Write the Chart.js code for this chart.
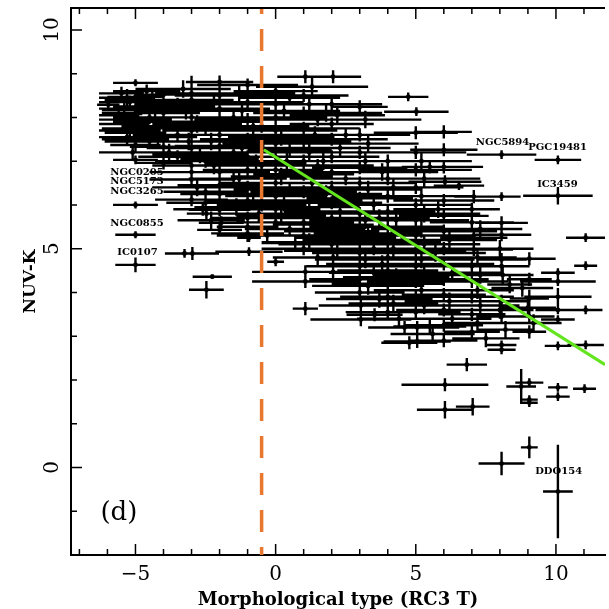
<!DOCTYPE html>
<html>
<head>
<meta charset="utf-8">
<script src="https://cdn.jsdelivr.net/npm/chart.js@4.4.1/dist/chart.umd.min.js"></script>
<style>
  html, body { margin: 0; padding: 0; background: #fff; overflow: hidden; }
</style>
</head>
<body>
<canvas id="chart" width="609" height="609"></canvas>
<script>
// RC3 morphological type T and its error (one line per T group)
const tType = [
  -5, -5, -5, -5, -5, -5, -5, -5, -5, -5, -5.97, -5.5, -5.6, -5.4, -5.3, -5.2, -4.8, -4.7, -4.6, -4.5, -4.5, -5.1,
  -4, -4, -4, -4, -4, -3.5, -3.5, -3.5, -3, -3, -3, -3, -3, -3, -3, -3, -3.25, -2.97, -2.26, -2.47, -2.6,
  -2, -2, -2, -2, -2, -2, -2, -2, -2, -2, -2, -2, -1.94, -2.47, -2.5, -2.5, -2.5, -1.5, -1.5, -1.5, -1, -1, -1, -1, -1, -1, -1, -1, -1, -1, -0.95, -0.95,
  0, 0, 0, 0, 0, 0, 0, 0, 0, 0, 0, 0, -0.5, -0.5, -0.5, 0.5, 0.5, 0.5, 0.7, 0.5,
  1.06, 1, 1, 1, 1, 1, 1, 1, 1, 1, 1, 1, 1.06, 1.06, 1.06, 1.5, 1.5, 1.5,
  2.05, 2, 2, 2, 2, 2, 2, 2, 2, 2, 2, 2.05, 2.05, 2.5, 2.5, 2.5,
  3, 3, 3, 3, 3, 3, 3, 3, 3, 3, 3, 3, 3, 3.04, 3.04, 3.53, 3.5, 3.5, 3.5,
  4, 4, 4, 4, 4, 4, 4, 4, 4, 4, 4, 4.5, 4.6, 4.77, 4.73,
  5.02, 5, 5, 5, 5, 5, 5, 5, 5, 5, 5, 5, 5, 5.05, 5.05, 5.5, 5.5,
  6, 6, 6, 6.04, 6, 6, 6, 6, 6, 6, 6, 6, 6, 6, 6.54, 6.04, 6.04,
  7.07, 7, 7, 7.07, 7.07, 7, 7, 7, 7, 7, 6.82, 7.03,
  8.06, 8.06, 8.06, 8.06, 8.06, 8.06, 8.35, 8.06, 8.06, 8.06, 8.06, 8.06,
  9.05, 9.05, 9.05, 9.05, 9.05, 8.76, 9.05, 9.05, 9.05, 9.05,
  10.07, 10.07, 10.07, 10.07, 10.07, 10.07, 10.07, 10.07, 10.07, 10.07, 10.07,
  11.06, 11.06, 11.06, 11.06, 11.02,
  -5.3, -4.9, -5.2, -4.3, -4.4, -5.0, -4.2, -5.4, -4.0, -3.8,
  -3.3, -3.2, -2.8, -3.1, -2.7, -3.0, -2.8, -2.5, -2.2, -2.3, -2.2, -2.0, -2.3,
  -1.3, -1.2, -0.8, -1.2, -0.7, -1.3, -0.8, -1.4, -0.6, -1.0, 0.3, 0.2, 0.4, 0.2, 0.3, 0.2, -0.3,
  1.3, 1.2, 1.4, 1.2, 1.3, 1.2, 1.4, 1.2, 1.5, 1.8, 1.7, 1.8, 1.7, 2.2, 2.3, 2.3, 2.2,
  3.2, 3.3, 3.2, 3.3, 3.2, 3.3, 3.2, 3.3, 3.7, 3.8, 3.7, 3.8, 4.2, 4.3, 4.2, 4.3, 4.2, 4.4,
  5.2, 5.3, 5.2, 5.3, 5.2, 5.3, 5.2, 5.3, 5.2, 5.3, 5.6, 5.7, 5.8, 6.2, 6.3, 6.2, 6.3,
  7.3, 7.2, 7.3, 7.2, 7.3, 7.2, 7.5, 8.0, 8.1, 8.0, 8.2, 8.8, 9.0, 9.2
];
const tErr = [
  0.8, 1.0, 1.2, 1.3, 1.1, 0.9, 0.8, 0.8, 0.72, 0.72, 0.4, 0.8, 0.7, 0.9, 1.0, 1.1, 1.4, 1.5, 1.2, 1.6, 1.3, 1.2,
  1.0, 1.3, 1.2, 1.0, 1.5, 1.5, 1.6, 1.4, 1.0, 1.3, 1.5, 1.8, 1.6, 1.4, 1.5, 1.3, 0.7, 0.95, 0.7, 0.62, 1.05,
  1.2, 1.6, 1.8, 1.5, 1.7, 1.6, 1.4, 1.8, 1.5, 1.0, 1.1, 0.8, 0.8, 0.7, 1.5, 1.8, 2.0, 1.8, 2.0, 1.6, 1.8, 2.0, 1.9, 1.7, 2.0, 1.6, 1.9, 1.5, 1.3, 1.1, 0.42, 1.2,
  1.5, 2.0, 1.8, 2.2, 1.9, 2.0, 1.7, 2.0, 1.8, 1.6, 1.4, 0.3, 1.5, 1.8, 1.6, 1.8, 1.5, 2.0, 1.2, 1.6,
  1.0, 1.6, 1.8, 2.0, 1.7, 2.0, 1.8, 1.9, 2.0, 1.8, 1.7, 1.5, 1.9, 1.9, 0.45, 1.8, 2.0, 1.6,
  1.0, 1.8, 1.5, 2.0, 1.7, 1.9, 2.0, 1.8, 2.0, 1.7, 1.9, 1.5, 1.0, 2.0, 1.8, 1.6,
  1.0, 1.8, 2.0, 1.7, 2.0, 1.9, 2.0, 1.8, 2.0, 1.7, 1.9, 1.8, 1.6, 1.5, 1.8, 1.0, 2.0, 1.8, 1.6,
  1.6, 1.8, 2.0, 1.7, 2.0, 1.9, 2.0, 1.8, 2.0, 1.7, 1.5, 1.8, 1.3, 1.0, 0.72,
  1.15, 1.5, 1.8, 2.0, 1.7, 2.0, 1.9, 2.0, 1.8, 2.0, 1.7, 1.9, 1.6, 1.5, 1.2, 1.3, 1.0,
  1.0, 1.2, 1.4, 1.3, 1.8, 1.6, 1.9, 1.7, 1.8, 1.6, 1.5, 1.7, 1.4, 1.2, 0.9, 1.55, 1.0,
  0.7, 1.0, 1.5, 1.2, 1.4, 1.6, 1.3, 1.5, 1.2, 1.0, 0.72, 0.6,
  1.24, 0.68, 0.94, 1.06, 0.9, 1.0, 0.8, 1.0, 0.9, 0.53, 0.5, 0.82,
  0.94, 0.8, 0.7, 0.9, 0.6, 0.53, 0.5, 0.3, 0.3, 0.3,
  0.83, 1.24, 0.6, 1.35, 1.2, 0.8, 0.6, 0.47, 0.35, 0.42, 0.53,
  0.7, 0.41, 0.6, 0.65, 0.41,
  1.0, 1.3, 1.1, 1.5, 1.7, 1.2, 1.4, 0.9, 1.8, 1.6,
  1.7, 1.8, 1.6, 1.9, 1.7, 1.5, 1.6, 1.4, 1.9, 1.8, 1.7, 1.4, 1.2,
  2.0, 1.8, 2.0, 1.9, 1.8, 1.7, 1.9, 1.5, 1.6, 1.3, 2.0, 1.9, 2.0, 1.8, 1.9, 1.6, 1.8,
  2.0, 1.9, 2.0, 1.8, 2.0, 1.9, 1.8, 1.7, 1.6, 2.0, 1.9, 2.0, 1.8, 1.9, 2.0, 1.8, 1.7,
  2.0, 1.8, 2.0, 1.9, 2.0, 1.9, 1.8, 2.0, 1.9, 2.0, 1.8, 2.0, 1.9, 2.0, 1.8, 1.9, 1.6, 1.5,
  1.8, 2.0, 1.9, 2.0, 1.8, 2.0, 1.9, 1.8, 1.7, 1.9, 1.5, 1.8, 1.6, 1.7, 1.8, 1.6, 1.4,
  1.5, 1.4, 1.5, 1.3, 1.4, 1.2, 1.2, 1.2, 1.1, 1.2, 1.0, 1.1, 1.0, 1.0
];
// NUV-K colour and its error
const nuvK = [
  8.79, 8.47, 8.17, 7.95, 7.65, 7.37, 7.03, 6.0, 5.32, 4.63, 8.29, 8.55, 8.05, 7.85, 7.55, 8.35, 8.2, 7.75, 8.6, 7.45, 8.0, 7.2,
  8.52, 8.1, 7.33, 6.96, 7.8, 8.3, 7.6, 7.1, 7.7, 8.55, 8.4, 8.0, 7.3, 6.9, 6.58, 6.12, 4.89, 4.89, 4.36, 4.06, 5.9,
  8.81, 8.5, 8.2, 7.9, 7.6, 7.35, 7.05, 6.75, 6.45, 6.05, 5.89, 5.43, 5.59, 5.8, 6.3, 7.0, 7.75, 8.0, 7.2, 6.6, 8.74, 8.35, 7.95, 7.5, 7.1, 6.8, 6.4, 6.1, 5.7, 5.5, 5.25, 4.93,
  8.6, 8.3, 8.0, 7.7, 7.4, 7.1, 6.8, 6.5, 6.2, 5.9, 5.6, 4.7, 7.8, 6.9, 6.0, 8.45, 7.25, 6.35, 5.13, 5.45,
  8.93, 8.5, 8.1, 7.75, 7.45, 7.0, 6.7, 6.3, 5.95, 5.6, 5.3, 5.0, 4.47, 4.25, 3.63, 7.95, 6.9, 5.8,
  8.93, 8.3, 7.85, 7.5, 7.1, 6.75, 6.4, 6.05, 5.7, 5.4, 5.1, 4.8, 4.47, 6.6, 5.25, 7.6,
  8.24, 7.6, 7.2, 6.85, 6.5, 6.15, 5.8, 5.5, 5.2, 4.9, 4.6, 4.3, 4.0, 3.7, 3.38, 3.49, 6.0, 5.0, 4.45,
  7.0, 6.6, 6.2, 5.85, 5.5, 5.15, 4.8, 4.5, 4.2, 3.9, 3.55, 5.3, 3.2, 2.85, 8.47,
  8.13, 7.65, 7.2, 6.8, 6.4, 6.0, 5.65, 5.3, 4.95, 4.6, 4.25, 3.9, 3.55, 3.2, 2.88, 3.22, 6.87,
  7.67, 7.26, 6.87, 6.53, 6.1, 5.75, 5.4, 5.0, 4.65, 4.3, 3.95, 3.6, 3.25, 2.9, 6.44, 1.89, 1.32,
  6.19, 5.9, 5.6, 5.25, 4.98, 4.6, 4.25, 3.9, 3.5, 3.1, 2.35, 1.39,
  7.15, 6.19, 5.59, 5.32, 4.75, 4.6, 4.18, 3.8, 3.45, 2.8, 2.69, 0.09,
  4.77, 4.3, 3.86, 3.45, 3.1, 1.85, 1.94, 1.55, 1.48, 0.46,
  7.03, 6.21, 4.45, 4.25, 3.9, 3.6, 3.38, 2.78, 1.83, 1.62, -0.55,
  5.25, 4.61, 3.6, 2.8, 1.8,
  8.45, 8.1, 7.7, 7.9, 8.4, 7.5, 7.55, 8.2, 8.25, 7.2,
  8.65, 8.15, 7.85, 7.45, 7.15, 6.75, 6.4, 6.05, 8.35, 7.45, 6.9, 6.25, 5.65,
  8.55, 8.15, 7.8, 7.3, 6.95, 6.6, 6.25, 5.95, 5.8, 5.35, 8.15, 7.55, 7.0, 6.65, 6.05, 5.75, 5.3,
  8.7, 8.3, 7.6, 7.2, 6.5, 6.1, 5.45, 5.15, 4.8, 8.1, 7.0, 6.25, 5.55, 4.95, 5.85, 7.3, 8.05,
  7.95, 7.4, 7.0, 6.35, 5.65, 5.35, 4.75, 4.15, 3.85, 6.75, 5.7, 4.65, 6.4, 5.65, 5.0, 4.35, 3.75, 3.4,
  7.0, 6.6, 6.2, 5.8, 5.45, 5.1, 4.75, 4.4, 4.05, 3.7, 3.05, 4.9, 5.9, 5.2, 4.45, 3.8, 3.4,
  5.45, 4.8, 4.4, 4.05, 3.7, 3.3, 2.95, 5.0, 4.4, 3.6, 3.15, 4.1, 3.65, 3.3
];
const nuvKErr = [
  0.08, 0.15, 0.15, 0.15, 0.15, 0.15, 0.1, 0.08, 0.08, 0.17, 0.1, 0.15, 0.15, 0.15, 0.15, 0.15, 0.15, 0.15, 0.15, 0.15, 0.15, 0.15,
  0.15, 0.15, 0.15, 0.15, 0.15, 0.15, 0.15, 0.15, 1.25, 0.15, 0.15, 0.15, 0.15, 0.15, 0.15, 0.15, 0.1, 0.15, 0.05, 0.2, 0.15,
  0.15, 0.15, 0.15, 0.15, 0.15, 0.15, 0.15, 0.15, 0.15, 0.15, 0.15, 0.15, 0.15, 0.15, 0.15, 0.15, 0.15, 0.15, 0.15, 0.15, 0.15, 0.15, 0.15, 0.15, 0.15, 0.15, 0.15, 0.15, 0.15, 0.15, 0.1, 0.1,
  0.15, 0.15, 0.15, 0.15, 0.15, 0.15, 0.15, 0.15, 0.15, 0.15, 0.15, 0.1, 0.15, 0.15, 0.15, 0.15, 0.15, 0.15, 0.15, 0.15,
  0.15, 0.15, 0.15, 0.15, 0.15, 0.15, 0.15, 0.15, 0.15, 0.15, 0.15, 0.15, 0.15, 0.15, 0.15, 0.15, 0.15, 0.15,
  0.15, 0.15, 0.15, 0.15, 0.15, 0.15, 0.15, 0.15, 0.15, 0.15, 0.15, 0.15, 0.15, 0.15, 0.15, 0.15,
  0.15, 0.15, 0.15, 0.15, 0.15, 0.15, 0.15, 0.15, 0.15, 0.15, 0.15, 0.15, 0.15, 0.15, 0.15, 0.15, 0.15, 0.15, 0.15,
  0.15, 0.15, 0.15, 0.15, 0.15, 0.15, 0.15, 0.15, 0.15, 0.15, 0.15, 0.15, 0.15, 0.15, 0.1,
  0.1, 0.15, 0.15, 0.15, 0.15, 0.15, 0.15, 0.15, 0.15, 0.15, 0.15, 0.15, 0.15, 0.15, 0.15, 0.15, 0.15,
  0.15, 0.15, 0.15, 0.15, 0.15, 0.15, 0.15, 0.15, 0.15, 0.15, 0.15, 0.15, 0.15, 0.15, 0.1, 0.15, 0.2,
  0.15, 0.15, 0.15, 0.15, 0.15, 0.15, 0.15, 0.15, 0.15, 0.15, 0.15, 0.2,
  0.1, 0.1, 0.15, 0.15, 0.15, 0.15, 0.2, 0.15, 0.15, 0.1, 0.1, 0.27,
  0.15, 0.15, 0.2, 0.15, 0.15, 0.4, 0.1, 0.1, 0.1, 0.25,
  0.1, 0.2, 0.1, 0.1, 0.2, 0.1, 0.1, 0.1, 0.1, 0.1, 1.07,
  0.1, 0.1, 0.1, 0.1, 0.1,
  0.2, 0.2, 0.2, 0.2, 0.2, 0.2, 0.2, 0.2, 0.2, 0.2,
  0.2, 0.2, 0.2, 0.2, 0.2, 0.2, 0.2, 0.2, 0.2, 0.2, 0.2, 0.2, 0.2,
  0.2, 0.2, 0.2, 0.2, 0.2, 0.2, 0.2, 0.2, 0.2, 0.2, 0.2, 0.2, 0.2, 0.2, 0.2, 0.2, 0.2,
  0.2, 0.2, 0.2, 0.2, 0.2, 0.2, 0.2, 0.2, 0.2, 0.2, 0.2, 0.2, 0.2, 0.2, 0.2, 0.2, 0.2,
  0.2, 0.2, 0.2, 0.2, 0.2, 0.2, 0.2, 0.2, 0.2, 0.2, 0.2, 0.2, 0.2, 0.2, 0.2, 0.2, 0.2, 0.2,
  0.2, 0.2, 0.2, 0.2, 0.2, 0.2, 0.2, 0.2, 0.2, 0.2, 0.2, 0.2, 0.2, 0.2, 0.2, 0.2, 0.2,
  0.2, 0.2, 0.2, 0.2, 0.2, 0.2, 0.2, 0.2, 0.2, 0.2, 0.2, 0.2, 0.2, 0.2
];

// linear fit for late types and the early/late divide
const fitT = [-0.42, 11.75];
const fitNUVK = [7.26, 2.35];
const divideT = -0.5;

// named galaxies (text left edge, vertical centre)
const labelNames = ["NGC0205", "NGC5173", "NGC3265", "NGC0855", "IC0107", "NGC5894", "PGC19481", "IC3459", "DDO154"];
const labelT = [-5.9, -5.9, -5.9, -5.9, -5.65, 7.14, 9.01, 9.33, 9.26];
const labelNUVK = [6.74, 6.53, 6.3, 5.57, 4.91, 7.42, 7.31, 6.48, -0.09];

const ctx = document.getElementById("chart");

const errorBars = {
  id: "errorBars",
  beforeDatasetsDraw(chart) {
    const { ctx, chartArea: a, scales: { x, y } } = chart;
    ctx.save();
    ctx.beginPath();
    ctx.rect(a.left, a.top, a.right - a.left, a.bottom - a.top);
    ctx.clip();
    ctx.strokeStyle = "#000";
    ctx.lineWidth = 2.4;
    ctx.beginPath();
    tType.forEach((t, i) => {
      const px = x.getPixelForValue(t);
      const py = y.getPixelForValue(nuvK[i]);
      ctx.moveTo(x.getPixelForValue(t - tErr[i]), py);
      ctx.lineTo(x.getPixelForValue(t + tErr[i]), py);
      ctx.moveTo(px, y.getPixelForValue(nuvK[i] - nuvKErr[i]));
      ctx.lineTo(px, y.getPixelForValue(nuvK[i] + nuvKErr[i]));
    });
    ctx.stroke();
    ctx.restore();
  }
};

// top border, inward tick marks and the text labels
const frame = {
  id: "frame",
  afterDatasetsDraw(chart) {
    const { ctx, chartArea: a, scales: { x, y } } = chart;
    ctx.save();
    ctx.strokeStyle = "#000";
    ctx.lineWidth = 2;
    ctx.beginPath();
    ctx.moveTo(a.left, a.top);
    ctx.lineTo(a.right, a.top);
    ctx.stroke();

    ctx.lineWidth = 1.5;
    ctx.beginPath();
    for (let t = -7; t <= 11; t++) {
      const px = x.getPixelForValue(t);
      const len = t % 5 === 0 ? 11 : 6;
      ctx.moveTo(px, a.bottom);
      ctx.lineTo(px, a.bottom - len);
      ctx.moveTo(px, a.top);
      ctx.lineTo(px, a.top + len);
    }
    for (let v = -2; v <= 10; v++) {
      const py = y.getPixelForValue(v);
      const len = v % 5 === 0 ? 11 : 6;
      ctx.moveTo(a.left, py);
      ctx.lineTo(a.left + len, py);
    }
    ctx.stroke();

    ctx.fillStyle = "#000";
    ctx.textAlign = "left";
    ctx.textBaseline = "middle";
    ctx.font = 'bold 10px "DejaVu Serif"';
    labelNames.forEach((name, i) => {
      ctx.fillText(name, x.getPixelForValue(labelT[i]), y.getPixelForValue(labelNUVK[i]));
    });
    ctx.font = '26px "DejaVu Serif"';
    ctx.fillText("(d)", x.getPixelForValue(-6.25), y.getPixelForValue(-1.05));
    ctx.restore();
  }
};

function fixScale(s, size) {
  if (s.isHorizontal()) s.height = size; else s.width = size;
  s.paddingTop = 0;
  s.paddingBottom = 0;
  s.paddingLeft = 0;
  s.paddingRight = 0;
}

new Chart(ctx, {
  type: "scatter",
  data: {
    datasets: [
      {
        type: "line",
        label: "divide",
        data: [{ x: divideT, y: 10.5 }, { x: divideT, y: -2 }],
        borderColor: "#e8782f",
        borderWidth: 3.5,
        borderDash: [22, 15],
        borderDashOffset: 16,
        pointRadius: 0
      },
      {
        type: "line",
        label: "fit",
        data: fitT.map((t, i) => ({ x: t, y: fitNUVK[i] })),
        borderColor: "#63e51d",
        borderWidth: 3,
        pointRadius: 0
      },
      {
        label: "galaxies",
        data: tType.map((t, i) => ({ x: t, y: nuvK[i] })),
        pointRadius: 2.4,
        pointBackgroundColor: "#000",
        pointBorderWidth: 0
      }
    ]
  },
  options: {
    responsive: false,
    animation: false,
    layout: { padding: { top: 8, left: 0, right: 0, bottom: 0 } },
    plugins: {
      legend: { display: false },
      tooltip: { enabled: false }
    },
    scales: {
      x: {
        type: "linear",
        min: -7.3,
        max: 11.75,
        afterFit: s => fixScale(s, 54),
        border: { color: "#000", width: 2 },
        grid: { display: false, drawTicks: false },
        ticks: {
          stepSize: 5,
          includeBounds: false,
          padding: 8,
          color: "#000",
          font: { family: "DejaVu Serif", size: 20 },
          callback: v => String(v).replace("-", "\u2212")
        },
        title: {
          display: true,
          text: "Morphological type (RC3 T)",
          color: "#000",
          font: { family: "DejaVu Serif", size: 18, weight: "bold", lineHeight: 1 },
          padding: { top: 0, bottom: 0 }
        }
      },
      y: {
        min: -2,
        max: 10.5,
        afterFit: s => fixScale(s, 71),
        border: { color: "#000", width: 2 },
        grid: { display: false, drawTicks: false },
        ticks: {
          stepSize: 5,
          includeBounds: false,
          minRotation: 90,
          maxRotation: 90,
          crossAlign: "center",
          padding: 5,
          color: "#000",
          font: { family: "DejaVu Serif", size: 20 }
        },
        title: {
          display: true,
          text: "NUV-K",
          color: "#000",
          font: { family: "DejaVu Serif", size: 17, weight: "bold" },
          padding: { top: 20, bottom: 0 }
        }
      }
    }
  },
  plugins: [errorBars, frame]
});
</script>
</body>
</html>
